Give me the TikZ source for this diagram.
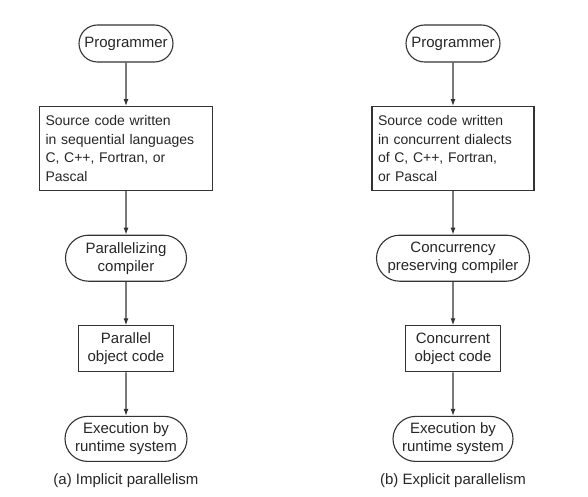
\documentclass[tikz,border=0pt]{standalone}
\usepackage{fontspec}
\setmainfont{Liberation Sans}
\usetikzlibrary{arrows.meta,positioning,shapes.misc}

\begin{document}
\begin{tikzpicture}[
  node distance=43.5pt,
  term/.style={rounded rectangle, draw=black!80, line width=1.1pt, align=center,
    minimum height=37pt, inner sep=3pt, text=black!85,
    font=\fontsize{15}{18}\selectfont},
  source/.style={rectangle, draw=black!80, line width=1.1pt, align=left,
    minimum height=84pt, inner sep=6pt, text=black!85,
    font=\fontsize{14}{18.5}\selectfont},
  objcode/.style={rectangle, draw=black!80, line width=1.1pt, align=center,
    minimum width=95pt, minimum height=46pt, inner sep=3pt, text=black!85,
    font=\fontsize{15}{18}\selectfont},
  caption/.style={text=black!85, font=\fontsize{15}{18}\selectfont},
  arrow/.style={-{Latex[length=7pt,width=5pt]}, line width=1.1pt, draw=black!80}
]
  \useasboundingbox (0,0) rectangle (588pt,-497pt);

  % (a) implicit parallelism
  \node[term, minimum width=100pt] (progA) at (126pt,-43.5pt) {Programmer};
  \node[source, text width=161pt, below=of progA] (srcA)
    {Source code written\\in sequential languages\\C, C++, Fortran, or\\Pascal};
  \node[term, minimum width=127pt, minimum height=46pt, below=of srcA] (compA)
    {Parallelizing\\compiler};
  \node[objcode, below=of compA] (objA) {Parallel\\object code};
  \node[term, minimum width=128pt, minimum height=45pt, below=of objA] (execA)
    {Execution by\\runtime system};
  \node[caption, below=8pt of execA] (capA) {(a) Implicit parallelism};

  % (b) explicit parallelism
  \node[term, minimum width=100pt] (progB) at (453pt,-43.5pt) {Programmer};
  \node[source, text width=150pt, below=of progB] (srcB)
    {Source code written\\in concurrent dialects\\of C, C++, Fortran,\\or Pascal};
  \node[term, minimum width=159pt, minimum height=46pt, below=of srcB] (compB)
    {Concurrency\\preserving compiler};
  \node[objcode, below=of compB] (objB) {Concurrent\\object code};
  \node[term, minimum width=126pt, minimum height=45pt, below=of objB] (execB)
    {Execution by\\runtime system};
  \node[caption, below=8pt of execB] (capB) {(b) Explicit parallelism};

  \draw[arrow] (progA) -- (srcA);
  \draw[arrow] (srcA) -- (compA);
  \draw[arrow] (compA) -- (objA);
  \draw[arrow] (objA) -- (execA);

  \draw[arrow] (progB) -- (srcB);
  \draw[arrow] (srcB) -- (compB);
  \draw[arrow] (compB) -- (objB);
  \draw[arrow] (objB) -- (execB);
\end{tikzpicture}
\end{document}
